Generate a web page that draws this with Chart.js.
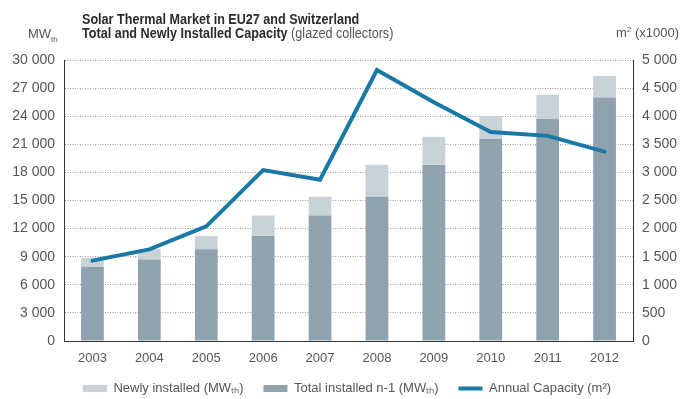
<!DOCTYPE html>
<html>
<head>
<meta charset="utf-8">
<script src="https://cdn.jsdelivr.net/npm/chart.js@4.4.1/dist/chart.umd.min.js"></script>
<style>
  html, body { margin: 0; padding: 0; background: #fff; }
  #wrap { position: relative; width: 694px; height: 399px; overflow: hidden; }
  canvas { position: absolute; left: 0; top: 0; }
  .t { position: absolute; white-space: nowrap; color: #2b2b2b; font-family: "Liberation Sans", Arial, sans-serif; transform: scaleX(0.9); transform-origin: 0 0; }
  .u { position: absolute; white-space: nowrap; color: #555; font-family: "Liberation Sans", Arial, sans-serif; font-size: 13px; }
</style>
</head>
<body>
<div id="wrap">
  <canvas id="c" width="694" height="399"></canvas>
  <div class="t" style="left:82px; top:11px; font-size:14px; font-weight:bold;">Solar Thermal Market in EU27 and Switzerland</div>
  <div class="t" style="left:82px; top:25px; font-size:14px;"><b>Total and Newly Installed Capacity</b> <span style="color:#555">(glazed collectors)</span></div>
  <div class="u" style="left:28px; top:26px;">MW<sub style="font-size:8px">th</sub></div>
  <div class="u" style="left:616px; top:25px;">m<sup style="font-size:8px">2</sup> (x1000)</div>
</div>
<script>
const categories = ["2003", "2004", "2005", "2006", "2007", "2008", "2009", "2010", "2011", "2012"];
const totalPrev = [7900, 8700, 9800, 11200, 13400, 15400, 18800, 21600, 23700, 26000];
const newlyInstalled = [1000, 1100, 1400, 2200, 2000, 3400, 3000, 2400, 2600, 2300];
const annualCapacity = [1430, 1630, 2040, 3040, 2870, 4820, 4250, 3720, 3650, 3370];
const leftTicks = { min: 0, max: 30000, step: 3000 };
const rightTicks = { min: 0, max: 5000, step: 500 };

function fmt(v) {
  return String(v).replace(/\B(?=(\d{3})+(?!\d))/g, " ");
}

const tickColor = "#555";
const fontFam = '"Liberation Sans", Arial, sans-serif';

const legendShift = {
  id: "legendShift",
  beforeDraw(chart) {
    const lg = chart.legend;
    if (lg) { lg.top -= 4; lg.bottom -= 4; }
  }
};

new Chart(document.getElementById("c"), {
  plugins: [legendShift],
  data: {
    labels: categories,
    datasets: [
      {
        type: "bar",
        label: "Total installed n-1 (MWₜₕ)",
        data: totalPrev,
        backgroundColor: "#8fa2ad",
        stack: "s",
        yAxisID: "y",
        barPercentage: 0.4,
        categoryPercentage: 1,
        pointStyle: "rect",
        order: 2
      },
      {
        type: "bar",
        label: "Newly installed (MWₜₕ)",
        data: newlyInstalled,
        backgroundColor: "#c8d3d8",
        stack: "s",
        yAxisID: "y",
        barPercentage: 0.4,
        categoryPercentage: 1,
        pointStyle: "rect",
        order: 2
      },
      {
        type: "line",
        label: "Annual Capacity (m²)",
        data: annualCapacity,
        borderColor: "#1878a6",
        backgroundColor: "#1878a6",
        borderWidth: 4,
        pointRadius: 0,
        pointStyle: "line",
        tension: 0,
        yAxisID: "y1",
        order: 0,
        borderCapStyle: "round",
        borderJoinStyle: "miter"
      }
    ]
  },
  options: {
    responsive: false,
    animation: false,
    layout: { padding: { top: 60, left: 0, right: 0, bottom: -10 } },
    plugins: {
      tooltip: { enabled: false },
      legend: {
        position: "bottom",
        labels: {
          color: "#555",
          font: { family: fontFam, size: 13 },
          usePointStyle: true,
          pointStyleWidth: 24,
          boxHeight: 7,
          padding: 20,
          sort: (a, b) => {
            const o = [1, 0, 2];
            return o.indexOf(a.datasetIndex) - o.indexOf(b.datasetIndex);
          }
        }
      }
    },
    scales: {
      x: {
        stacked: true,
        grid: { display: false, drawTicks: false },
        border: { display: true, color: "#333", width: 1 },
        ticks: { color: tickColor, font: { family: fontFam, size: 13 }, padding: 10 },
        afterFit: (s) => { s.height = 25; }
      },
      y: {
        stacked: true,
        position: "left",
        min: leftTicks.min,
        max: leftTicks.max,
        ticks: { stepSize: leftTicks.step, color: tickColor, font: { family: fontFam, size: 14 }, padding: 9, callback: (v) => fmt(v) },
        grid: { color: "#9a9a9a", lineWidth: 1, drawTicks: false, tickLength: 0 },
        border: { display: true, color: "#333", width: 1, dash: [1, 1.5] },
        afterFit: (s) => { s.width = 64; }
      },
      y1: {
        position: "right",
        min: rightTicks.min,
        max: rightTicks.max,
        ticks: { stepSize: rightTicks.step, color: tickColor, font: { family: fontFam, size: 14 }, padding: 9, callback: (v) => fmt(v) },
        grid: { drawOnChartArea: false, drawTicks: false },
        border: { display: true, color: "#333", width: 1 },
        afterFit: (s) => { s.width = 61; }
      }
    }
  }
});
</script>
</body>
</html>
